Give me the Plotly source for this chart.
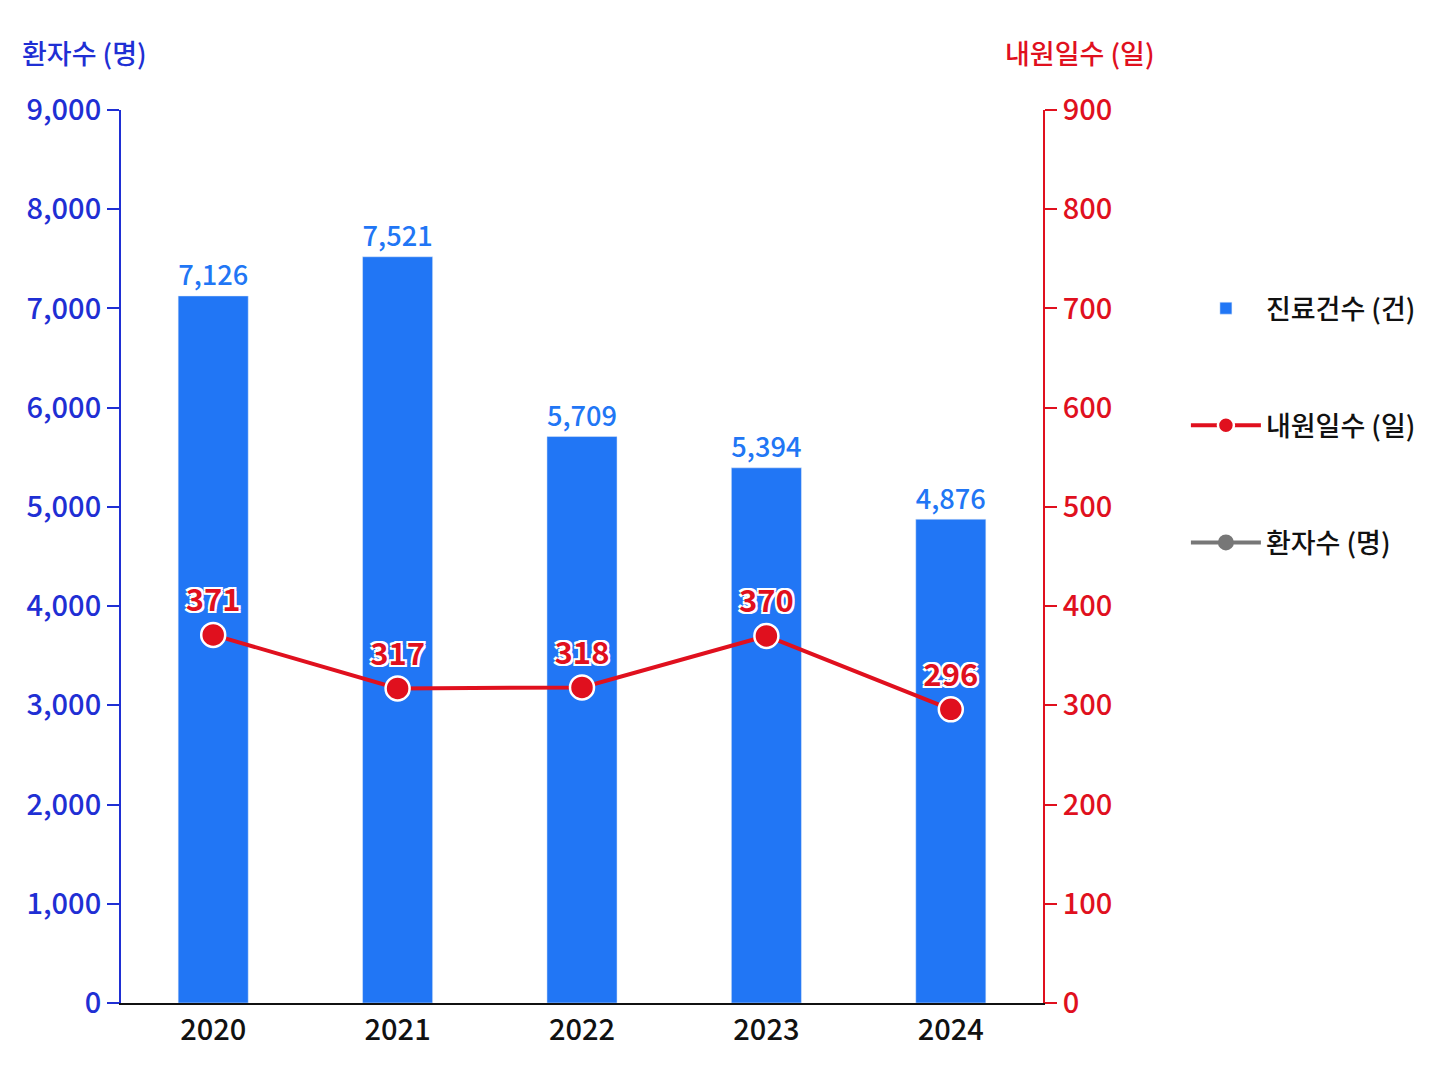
import plotly.graph_objects as go

# data
years = ["2020", "2021", "2022", "2023", "2024"]
treatments = [7126, 7521, 5709, 5394, 4876]  # 진료건수 (건)
visit_days = [371, 317, 318, 370, 296]  # 내원일수 (일)
patients = [None, None, None, None, None]  # 환자수 (명) - only in legend

left_ticks = [0, 1000, 2000, 3000, 4000, 5000, 6000, 7000, 8000, 9000]
right_ticks = [0, 100, 200, 300, 400, 500, 600, 700, 800, 900]

BLUE_BAR = "#2176f5"
BLUE_AXIS = "#1f2fd4"
RED = "#e0101e"
GRAY = "#777777"
FONT = "Noto Sans CJK KR, sans-serif"

fig = go.Figure()

fig.add_trace(
    go.Bar(
        x=years,
        y=treatments,
        name="진료건수 (건)",
        marker=dict(color=BLUE_BAR),
        width=0.38,
        text=[f"{v:,}" for v in treatments],
        textposition="outside",
        textfont=dict(color=BLUE_BAR, size=29, family=FONT, weight=500),
        cliponaxis=False,
        legendgroup="a",
    )
)

fig.add_trace(
    go.Scatter(
        x=years,
        y=visit_days,
        name="내원일수 (일)",
        yaxis="y2",
        mode="lines+markers+text",
        line=dict(color=RED, width=4),
        marker=dict(color=RED, size=24, line=dict(color="white", width=2.5)),
        text=[str(v) for v in visit_days],
        textposition="top center",
        textfont=dict(
            color=RED,
            size=31,
            family=FONT,
            weight="bold",
            shadow="2px 2px 0 white, -2px -2px 0 white, 2px -2px 0 white, -2px 2px 0 white",
        ),
        cliponaxis=False,
        legendgroup="b",
    )
)

fig.add_trace(
    go.Scatter(
        x=years,
        y=patients,
        name="환자수 (명)",
        yaxis="y2",
        mode="lines+markers",
        line=dict(color=GRAY, width=4),
        marker=dict(color=GRAY, size=24),
        legendgroup="c",
    )
)

fig.update_layout(
    width=1448,
    height=1086,
    paper_bgcolor="white",
    plot_bgcolor="white",
    margin=dict(l=113, r=413, t=102, b=91),
    showlegend=True,
    legend=dict(
        x=1.155,
        y=0.805,
        xanchor="left",
        yanchor="top",
        font=dict(size=27, color="#111111", family=FONT, weight=500),
        tracegroupgap=79,
        itemwidth=70,
    ),
    xaxis=dict(
        type="category",
        showline=True,
        linecolor="#111111",
        linewidth=2,
        ticks="",
        tickfont=dict(size=29, color="#111111", family=FONT, weight=500),
        showgrid=False,
    ),
    yaxis=dict(
        range=[0, 9000],
        tickvals=left_ticks,
        tickformat=",",
        showline=True,
        linecolor=BLUE_AXIS,
        linewidth=2,
        ticks="outside",
        ticklen=12,
        tickwidth=2,
        tickcolor=BLUE_AXIS,
        tickfont=dict(size=29, color=BLUE_AXIS, family=FONT, weight=500),
        showgrid=False,
        zeroline=False,
    ),
    yaxis2=dict(
        range=[0, 900],
        tickvals=right_ticks,
        overlaying="y",
        side="right",
        showline=True,
        linecolor=RED,
        linewidth=2,
        ticks="outside",
        ticklen=12,
        tickwidth=2,
        tickcolor=RED,
        tickfont=dict(size=29, color=RED, family=FONT, weight=500),
        showgrid=False,
        zeroline=False,
    ),
    annotations=[
        dict(
            text="환자수 (명)",
            xref="paper",
            yref="paper",
            x=-0.04,
            y=1.04,
            xanchor="center",
            yanchor="bottom",
            showarrow=False,
            font=dict(size=27, color=BLUE_AXIS, family=FONT, weight=500),
        ),
        dict(
            text="내원일수 (일)",
            xref="paper",
            yref="paper",
            x=1.04,
            y=1.04,
            xanchor="center",
            yanchor="bottom",
            showarrow=False,
            font=dict(size=27, color=RED, family=FONT, weight=500),
        ),
    ],
)

fig.write_html("out.html")
